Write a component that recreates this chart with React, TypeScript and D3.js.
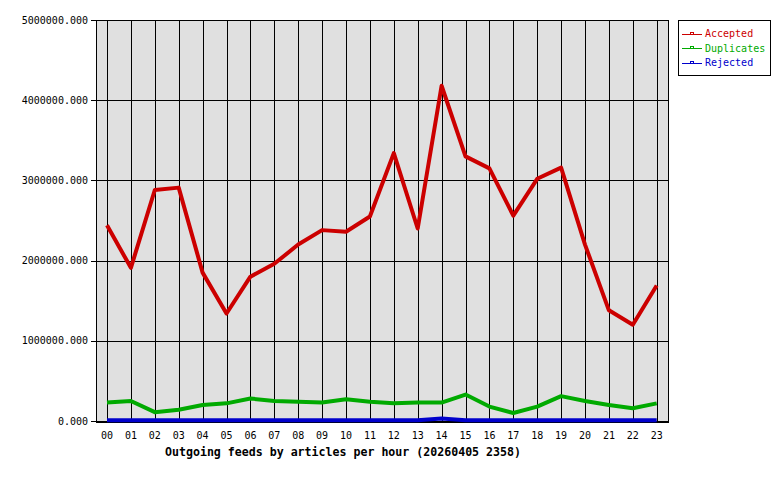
import React from "react";
import * as d3 from "d3";

const hours = ["00","01","02","03","04","05","06","07","08","09","10","11","12","13","14","15","16","17","18","19","20","21","22","23"];
const accepted = [2440000,1910000,2880000,2910000,1850000,1340000,1800000,1960000,2200000,2380000,2360000,2550000,3340000,2400000,4180000,3300000,3150000,2560000,3020000,3160000,2200000,1380000,1200000,1690000];
const duplicates = [230000,250000,110000,140000,200000,220000,280000,250000,240000,230000,270000,240000,220000,230000,230000,330000,180000,100000,180000,310000,250000,200000,160000,220000];
const rejected = [8000,8000,8000,8000,8000,8000,8000,8000,8000,8000,8000,8000,8000,8000,30000,8000,8000,8000,8000,8000,8000,8000,8000,8000];
const yTicks = [0,1000000,2000000,3000000,4000000,5000000];
const seriesNames = ["Accepted","Duplicates","Rejected"];
const seriesColors = ["#cc0000","#00aa00","#0000cc"];
const title = "Outgoing feeds by articles per hour (20260405 2358)";

export default function App() {
  const left = 96, right = 668, top = 20, bottom = 422;
  const x = d3.scaleLinear().domain([0, 23]).range([107, 656.7]);
  const y = d3.scaleLinear().domain([0, 5000000]).range([421, 20]);
  const line = d3.line<number>().x((_, i) => x(i)).y(d => y(d));
  const data = [accepted, duplicates, rejected];
  const mono = "'DejaVu Sans Mono', monospace";
  return (
    <svg width={780} height={480} style={{ position: "absolute", left: 0, top: 0, background: "#fff" }}>
      <rect x={0} y={0} width={780} height={480} fill="#fff" />
      <rect x={left} y={top} width={right - left} height={bottom - top} fill="#e0e0e0" />
      <g shapeRendering="crispEdges" stroke="#000" strokeWidth={1}>
        {hours.map((h, i) => (
          <line key={h} x1={Math.round(x(i)) + 0.5} x2={Math.round(x(i)) + 0.5} y1={top} y2={bottom} />
        ))}
        {yTicks.map(t => (
          <line key={t} x1={91} x2={right} y1={Math.round(y(t)) + 0.5} y2={Math.round(y(t)) + 0.5} />
        ))}
        <rect x={left + 0.5} y={top + 0.5} width={right - left} height={bottom - top} fill="none" />
      </g>
      {data.map((d, k) => (
        <path key={k} d={line(d) || ""} fill="none" stroke={seriesColors[k]} strokeWidth={4} strokeLinejoin="round" />
      ))}
      {yTicks.map(t => (
        <text key={t} x={88} y={y(t)} dy="0.35em" textAnchor="end" fontFamily={mono} fontSize={10} fill="#000">
          {t.toFixed(3)}
        </text>
      ))}
      {hours.map((h, i) => (
        <text key={h} x={x(i)} y={435} dy="0.35em" textAnchor="middle" fontFamily={mono} fontSize={10} fill="#000">
          {h}
        </text>
      ))}
      <text x={343} y={452} dy="0.35em" textAnchor="middle" fontFamily={mono} fontSize={11.6} fontWeight="bold" fill="#000">
        {title}
      </text>
      <g>
        <rect x={678.5} y={20.5} width={92} height={55} fill="#fff" stroke="#000" shapeRendering="crispEdges" />
        {seriesNames.map((n, k) => {
          const yy = 33.5 + k * 14.5;
          return (
            <g key={n}>
              <line x1={682} x2={702} y1={Math.round(yy) + 0.5} y2={Math.round(yy) + 0.5} stroke={seriesColors[k]} shapeRendering="crispEdges" />
              <rect x={690.5} y={Math.round(yy) - 1.5} width={3} height={2} fill="none" stroke={seriesColors[k]} shapeRendering="crispEdges" />
              <text x={705} y={yy} dy="0.35em" fontFamily={mono} fontSize={10} fill={seriesColors[k]}>{n}</text>
            </g>
          );
        })}
      </g>
    </svg>
  );
}
